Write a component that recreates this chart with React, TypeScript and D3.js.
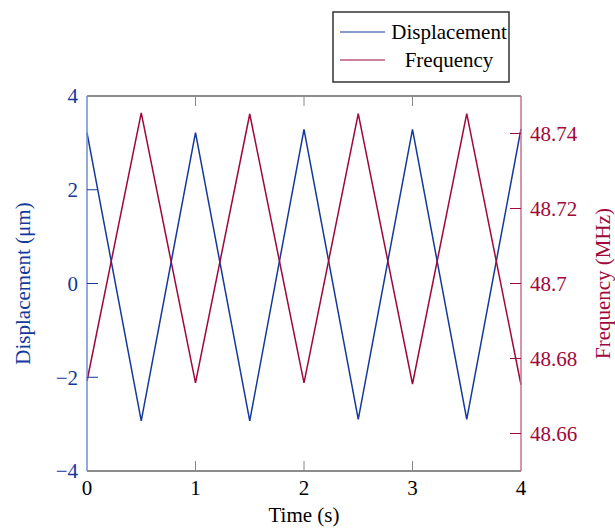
import { useEffect, useRef } from 'react';
import * as d3 from 'd3';

const times = [0, 0.5, 1, 1.5, 2, 2.5, 3, 3.5, 4];
const displacement = [3.22, -2.93, 3.22, -2.93, 3.29, -2.9, 3.29, -2.9, 3.3];
const frequency = [48.674, 48.7455, 48.6735, 48.7452, 48.6735, 48.7453, 48.6732, 48.7453, 48.673];

const xTicks = [0, 1, 2, 3, 4];
const leftTicks = [-4, -2, 0, 2, 4];
const rightTicks = [48.66, 48.68, 48.7, 48.72, 48.74];
const seriesNames = ['Displacement', 'Frequency'];

const BLUE = '#13399a';
const RED = '#a0073a';
const FONT = '"Liberation Serif", "DejaVu Serif", serif';

export default function App() {
  const svgRef = useRef<SVGSVGElement>(null);

  useEffect(() => {
    const svg = d3.select(svgRef.current);
    const width = 615;
    const height = 528;
    const left = 87;
    const right = 521;
    const top = 96;
    const bottom = 471;

    svg.attr('width', width).attr('height', height);
    svg.selectAll('*').remove();

    const x = d3.scaleLinear().domain([0, 4]).range([left, right]);
    const yL = d3.scaleLinear().domain([-4, 4]).range([bottom, top]);
    const yR = d3.scaleLinear().domain([48.65, 48.75]).range([bottom, top]);

    const g = svg.append('g').style('font-family', FONT).style('font-size', '21px');

    // top / bottom frame with inward ticks
    g.append('line')
      .attr('x1', left).attr('x2', right).attr('y1', top).attr('y2', top)
      .attr('stroke', '#666').attr('stroke-width', 1.5);
    g.append('line')
      .attr('x1', left).attr('x2', right).attr('y1', bottom).attr('y2', bottom)
      .attr('stroke', '#666').attr('stroke-width', 1.5);
    xTicks.slice(1, -1).forEach((t) => {
      g.append('line')
        .attr('x1', x(t)).attr('x2', x(t)).attr('y1', top).attr('y2', top + 10)
        .attr('stroke', '#888').attr('stroke-width', 1);
      g.append('line')
        .attr('x1', x(t)).attr('x2', x(t)).attr('y1', bottom).attr('y2', bottom - 10)
        .attr('stroke', '#888').attr('stroke-width', 1);
    });
    xTicks.forEach((t) => {
      g.append('text')
        .attr('x', x(t)).attr('y', bottom + 24)
        .attr('text-anchor', 'middle').attr('fill', '#000')
        .text(t);
    });

    // data lines
    const lineL = d3.line<number>().x((d, i) => x(times[i])).y((d) => yL(d));
    const lineR = d3.line<number>().x((d, i) => x(times[i])).y((d) => yR(d));
    g.append('path').datum(displacement)
      .attr('fill', 'none').attr('stroke', BLUE).attr('stroke-width', 1.5)
      .attr('d', lineL);
    g.append('path').datum(frequency)
      .attr('fill', 'none').attr('stroke', RED).attr('stroke-width', 1.5)
      .attr('d', lineR);

    // left axis
    g.append('line')
      .attr('x1', left).attr('x2', left).attr('y1', top).attr('y2', bottom)
      .attr('stroke', '#6f8fcf').attr('stroke-width', 1.5);
    leftTicks.forEach((t) => {
      if (t !== -4 && t !== 4) {
        g.append('line')
          .attr('x1', left).attr('x2', left + 11).attr('y1', yL(t)).attr('y2', yL(t))
          .attr('stroke', BLUE).attr('stroke-width', 1);
      }
      g.append('text')
        .attr('x', left - 9).attr('y', yL(t)).attr('dy', '0.35em')
        .attr('text-anchor', 'end').attr('fill', BLUE)
        .text(t < 0 ? `\u2212${Math.abs(t)}` : `${t}`);
    });
    g.append('text')
      .attr('transform', `translate(23,${(top + bottom) / 2}) rotate(-90)`)
      .attr('text-anchor', 'middle').attr('dy', '0.35em').attr('fill', BLUE)
      .text('Displacement (\u03bcm)');

    // right axis
    g.append('line')
      .attr('x1', right).attr('x2', right).attr('y1', top).attr('y2', bottom)
      .attr('stroke', '#c9708c').attr('stroke-width', 1.5);
    rightTicks.forEach((t) => {
      g.append('line')
        .attr('x1', right).attr('x2', right - 11).attr('y1', yR(t)).attr('y2', yR(t))
        .attr('stroke', RED).attr('stroke-width', 1);
      g.append('text')
        .attr('x', right + 9).attr('y', yR(t)).attr('dy', '0.35em')
        .attr('text-anchor', 'start').attr('fill', RED)
        .text(d3.format('~g')(t));
    });
    g.append('text')
      .attr('transform', `translate(603,${(top + bottom) / 2}) rotate(-90)`)
      .attr('text-anchor', 'middle').attr('dy', '0.35em').attr('fill', RED)
      .text('Frequency (MHz)');

    // x label
    g.append('text')
      .attr('x', (left + right) / 2).attr('y', 515).attr('dy', '0.35em')
      .attr('text-anchor', 'middle').attr('fill', '#000')
      .text('Time (s)');

    // legend
    const lg = g.append('g');
    lg.append('rect')
      .attr('x', 333).attr('y', 12).attr('width', 176).attr('height', 70)
      .attr('fill', '#fff').attr('stroke', '#333').attr('stroke-width', 1.5);
    [BLUE, RED].forEach((c, i) => {
      const cy = 32 + i * 28;
      lg.append('line')
        .attr('x1', 340).attr('x2', 385).attr('y1', cy).attr('y2', cy)
        .attr('stroke', c).attr('stroke-width', 1.2);
      lg.append('text')
        .attr('x', 449).attr('y', cy).attr('dy', '0.35em')
        .attr('text-anchor', 'middle').attr('fill', '#000')
        .text(seriesNames[i]);
    });
  }, []);

  return (
    <svg
      ref={svgRef}
      style={{ position: 'absolute', left: 0, top: 0, background: '#fff' }}
    ></svg>
  );
}
